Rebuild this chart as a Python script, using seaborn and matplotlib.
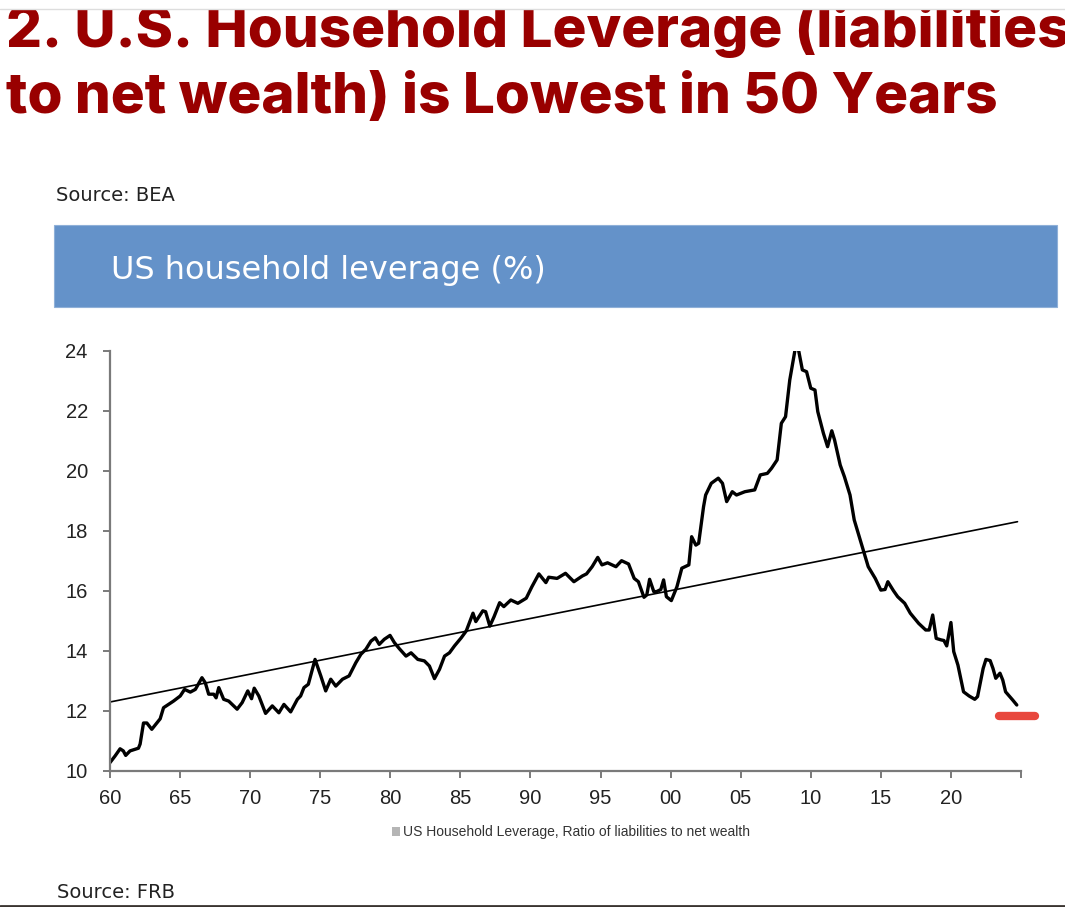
import matplotlib
matplotlib.use("Agg")
import matplotlib.pyplot as plt
import seaborn as sns
import pandas as pd
from matplotlib.patches import Rectangle, Patch
from matplotlib import font_manager
from matplotlib.textpath import TextPath

# ---- data ----
years = [1960.0, 1960.36, 1960.72, 1960.95, 1961.12, 1961.43, 1962.03, 1962.15, 1962.39, 1962.63,
         1962.98, 1963.34, 1963.58, 1963.82, 1964.18, 1964.53, 1965.01, 1965.32, 1965.73, 1966.09,
         1966.56, 1966.80, 1967.04, 1967.40, 1967.57, 1967.76, 1968.11, 1968.47, 1969.07, 1969.43,
         1969.83, 1970.10, 1970.29, 1970.62, 1971.10, 1971.58, 1972.05, 1972.41, 1972.89, 1973.37,
         1973.60, 1973.84, 1974.15, 1974.63, 1975.04, 1975.39, 1975.75, 1976.11, 1976.59, 1977.06,
         1977.54, 1977.90, 1978.26, 1978.62, 1978.93, 1979.21, 1979.57, 1979.98, 1980.29, 1980.64,
         1981.12, 1981.48, 1981.96, 1982.43, 1982.79, 1983.15, 1983.51, 1983.87, 1984.22, 1984.58,
         1985.06, 1985.42, 1985.90, 1986.10, 1986.60, 1986.80, 1987.10, 1987.40, 1987.80, 1988.10,
         1988.60, 1989.10, 1989.70, 1990.10, 1990.60, 1991.10, 1991.30, 1991.90, 1992.50, 1993.10,
         1993.70, 1994.00, 1994.40, 1994.80, 1995.10, 1995.50, 1996.10, 1996.50, 1997.00, 1997.40,
         1997.70, 1998.10, 1998.30, 1998.50, 1998.80, 1999.00, 1999.30, 1999.50, 1999.70, 2000.05,
         2000.45, 2000.80, 2001.30, 2001.50, 2001.80, 2002.00, 2002.35, 2002.50, 2002.90, 2003.40,
         2003.70, 2004.00, 2004.40, 2004.70, 2005.30, 2006.00, 2006.40, 2006.90, 2007.20, 2007.60,
         2007.90, 2008.20, 2008.50, 2008.90, 2009.10, 2009.40, 2009.70, 2010.00, 2010.30, 2010.50,
         2010.90, 2011.20, 2011.50, 2011.70, 2012.10, 2012.40, 2012.80, 2013.10, 2013.60, 2014.10,
         2014.60, 2015.00, 2015.30, 2015.50, 2015.90, 2016.20, 2016.70, 2017.10, 2017.70, 2018.20,
         2018.45, 2018.70, 2018.95, 2019.30, 2019.50, 2019.70, 2020.00, 2020.20, 2020.50, 2020.90,
         2021.30, 2021.70, 2021.90, 2022.30, 2022.50, 2022.80, 2023.00, 2023.20, 2023.50, 2023.70,
         2023.90, 2024.40, 2024.70]
leverage = [10.28, 10.50, 10.74, 10.67, 10.52, 10.67, 10.76, 10.90, 11.60, 11.60,
            11.39, 11.60, 11.74, 12.11, 12.22, 12.33, 12.50, 12.72, 12.63, 12.72,
            13.11, 12.94, 12.56, 12.56, 12.44, 12.78, 12.39, 12.33, 12.06, 12.28,
            12.67, 12.41, 12.76, 12.50, 11.92, 12.17, 11.94, 12.22, 11.97, 12.39,
            12.50, 12.78, 12.89, 13.72, 13.17, 12.67, 13.06, 12.83, 13.06, 13.17,
            13.61, 13.89, 14.06, 14.33, 14.44, 14.22, 14.39, 14.52, 14.28, 14.08,
            13.83, 13.94, 13.72, 13.67, 13.50, 13.08, 13.39, 13.83, 13.94, 14.17,
            14.44, 14.67, 15.26, 14.98, 15.34, 15.31, 14.83, 15.14, 15.61, 15.48,
            15.70, 15.59, 15.76, 16.14, 16.57, 16.28, 16.46, 16.42, 16.59, 16.31,
            16.50, 16.57, 16.81, 17.12, 16.87, 16.94, 16.81, 17.01, 16.90, 16.42,
            16.31, 15.79, 15.87, 16.39, 15.98, 15.98, 16.05, 16.37, 15.81, 15.68,
            16.14, 16.76, 16.87, 17.81, 17.53, 17.59, 18.81, 19.20, 19.59, 19.76,
            19.59, 18.98, 19.31, 19.20, 19.31, 19.37, 19.87, 19.92, 20.09, 20.37,
            21.59, 21.81, 23.03, 24.10, 24.10, 23.37, 23.31, 22.76, 22.70, 21.98,
            21.26, 20.81, 21.34, 21.03, 20.20, 19.81, 19.20, 18.37, 17.59, 16.81,
            16.42, 16.03, 16.05, 16.31, 16.01, 15.81, 15.59, 15.26, 14.92, 14.70,
            14.70, 15.20, 14.42, 14.37, 14.35, 14.17, 14.95, 13.98, 13.53, 12.64,
            12.50, 12.39, 12.48, 13.42, 13.72, 13.68, 13.42, 13.09, 13.26, 13.03,
            12.64, 12.37, 12.20]

trend_years = [1960.0, 2024.75]
trend_values = [12.30, 18.31]

marker_years = [2023.4, 2026.0]
marker_values = [11.85, 11.85]

x_ticks = [1960, 1965, 1970, 1975, 1980, 1985, 1990, 1995, 2000, 2005, 2010, 2015, 2020, 2025]
x_tick_labels = ["60", "65", "70", "75", "80", "85", "90", "95", "00", "05", "10", "15", "20", ""]
y_ticks = [10, 12, 14, 16, 18, 20, 22, 24]

title_line1 = "2. U.S. Household Leverage (liabilities"
title_line2 = "to net wealth) is Lowest in 50 Years"
banner_text = "US household leverage (%)"
series_label = "US Household Leverage, Ratio of liabilities to net wealth"

df = pd.DataFrame({"year": years, "leverage": leverage})
trend_df = pd.DataFrame({"year": trend_years, "value": trend_values})

# ---- figure ----
sns.set_theme(style="white")
plt.rcParams["font.family"] = ["DejaVu Sans"]
W, H = 1065, 907
fig = plt.figure(figsize=(W / 100, H / 100), dpi=100)
fig.patch.set_facecolor("white")

def fx(px):
    return px / W

def fy(py):
    return 1 - py / H

# pick a bold face whose proportions are closest to the reference title
target_ratio = 990.0 / 41.0
best = None
for fam in ["Open Sans", "Lato", "Roboto", "Inter", "Noto Sans", "Liberation Sans", "DejaVu Sans"]:
    for wt in ["heavy", "bold"]:
        fp = font_manager.FontProperties(family=fam, weight=wt)
        try:
            path = font_manager.findfont(fp, fallback_to_default=False)
        except Exception:
            continue
        low = path.lower()
        if not any(k in low for k in ["bold", "black", "heavy", "extrab"]):
            continue
        if fam.lower().replace(" ", "") not in low.replace(" ", "").replace("-", "").replace("_", ""):
            continue
        w = TextPath((0, 0), title_line2, size=100, prop=fp).get_extents().width
        c = TextPath((0, 0), "H", size=100, prop=fp).get_extents().height
        score = abs(w / c - target_ratio)
        if best is None or score < best[0]:
            best = (score, fp, w, c)
        break
if best is None:
    title_fp = font_manager.FontProperties(family="DejaVu Sans", weight="bold")
    w = TextPath((0, 0), title_line2, size=100, prop=title_fp).get_extents().width
else:
    title_fp, w = best[1], best[2]
# size so that line 2 spans ~990 px
title_px = 100 * 990.0 / w
title_pt = title_px * 72 / 100
title_fp = title_fp.copy()
title_fp.set_size(title_pt)

ax = fig.add_axes([fx(110), fy(771), fx(1021) - fx(110), fy(351) - fy(771)])
ax.set_facecolor("white")

sns.lineplot(data=df, x="year", y="leverage", ax=ax, color="black", linewidth=2.4,
             estimator=None, sort=False, legend=False)
sns.lineplot(data=trend_df, x="year", y="value", ax=ax, color="black", linewidth=1.2,
             estimator=None, sort=False, legend=False)
ax.plot(marker_years, marker_values, color="#e8473d", linewidth=6, solid_capstyle="round",
        clip_on=False, zorder=5)

ax.set_xlim(1960, 2025)
ax.set_ylim(10, 24)
ax.set_xticks(x_ticks)
ax.set_xticklabels(x_tick_labels)
ax.set_yticks(y_ticks)
ax.set_xlabel("")
ax.set_ylabel("")

tick_font = ["Liberation Sans Narrow", "Liberation Sans", "DejaVu Sans"]
for lab in ax.get_xticklabels() + ax.get_yticklabels():
    lab.set_family(tick_font)
    lab.set_fontsize(14.5)
    lab.set_color("#222222")

for s in ["top", "right"]:
    ax.spines[s].set_visible(False)
for s in ["left", "bottom"]:
    ax.spines[s].set_color("#7a7a7a")
    ax.spines[s].set_linewidth(1.6)
ax.tick_params(axis="both", direction="out", length=5, width=1.4, color="#7a7a7a",
               left=True, bottom=True)
ax.tick_params(axis="y", pad=11)
ax.tick_params(axis="x", pad=8)

# legend
leg = ax.legend(handles=[Patch(facecolor="#b5b5b5", edgecolor="none", label=series_label)],
                loc="center", bbox_to_anchor=(fx(571), fy(832)), bbox_transform=fig.transFigure,
                frameon=False, handlelength=0.6, handleheight=0.6, handletextpad=0.25,
                prop={"family": tick_font, "size": 10})
for t in leg.get_texts():
    t.set_color("#333333")

# title
title_color = "#990000"
fig.text(fx(6), fy(47), title_line1, color=title_color, fontproperties=title_fp,
         ha="left", va="baseline")
fig.text(fx(6), fy(113), title_line2, color=title_color, fontproperties=title_fp,
         ha="left", va="baseline")

# cropped top edge with a thin line
fig.add_artist(Rectangle((0, fy(9)), 1, 1 - fy(9), transform=fig.transFigure,
                         facecolor="white", edgecolor="none", zorder=10))
fig.add_artist(plt.Line2D([0, 1], [fy(9), fy(9)], transform=fig.transFigure,
                          color="#dddddd", linewidth=1, zorder=11))

# source labels
fig.text(fx(56), fy(201), "Source: BEA", color="#222222", fontsize=14,
         ha="left", va="baseline")
fig.text(fx(57), fy(898), "Source: FRB", color="#222222", fontsize=14,
         ha="left", va="baseline")

# banner
fig.add_artist(Rectangle((fx(54), fy(307)), fx(1057) - fx(54), fy(225) - fy(307),
                         transform=fig.transFigure, facecolor="#6492c9",
                         edgecolor="#8fb0d8", linewidth=0.8))
fig.text(fx(111), fy(279), banner_text, color="white", fontsize=23,
         ha="left", va="baseline")

# bottom border
fig.add_artist(plt.Line2D([0, 1], [fy(905.5), fy(905.5)], transform=fig.transFigure,
                          color="#3a3430", linewidth=2))

fig.savefig("out.png", dpi=100, facecolor="white")
